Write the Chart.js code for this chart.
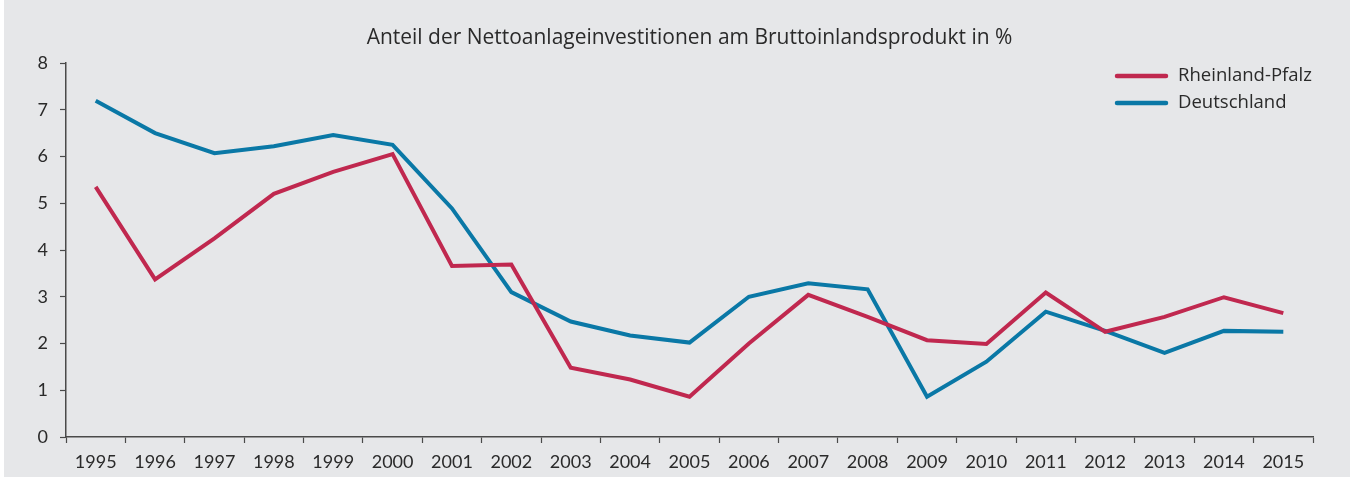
<!DOCTYPE html>
<html>
<head>
<meta charset="utf-8">
<script src="https://cdn.jsdelivr.net/npm/chart.js@4/dist/chart.umd.min.js"></script>
<style>
  html, body { margin: 0; padding: 0; background: #ffffff; }
  #wrap { position: absolute; left: 4px; top: 0; width: 1346px; height: 477px; background: #e6e7e9; }
  canvas { display: block; }
</style>
</head>
<body>
<div id="wrap"><canvas id="c"></canvas></div>
<script>
const titleText = "Anteil der Nettoanlageinvestitionen am Bruttoinlandsprodukt in %";
const years = ["1995","1996","1997","1998","1999","2000","2001","2002","2003","2004","2005","2006","2007","2008","2009","2010","2011","2012","2013","2014","2015"];
const rheinlandPfalz = [5.35, 3.37, 4.25, 5.2, 5.67, 6.05, 3.66, 3.69, 1.48, 1.23, 0.86, 2.0, 3.04, 2.57, 2.07, 1.99, 3.09, 2.25, 2.57, 2.99, 2.65];
const deutschland = [7.19, 6.5, 6.07, 6.22, 6.46, 6.25, 4.89, 3.1, 2.47, 2.17, 2.02, 3.0, 3.29, 3.16, 0.86, 1.61, 2.68, 2.27, 1.8, 2.27, 2.25];
const seriesNames = ["Rheinland-Pfalz", "Deutschland"];
const yTicks = [0, 1, 2, 3, 4, 5, 6, 7, 8];

const RED = "#c0284f";
const BLUE = "#0a78a6";
const TEXT = "#2a2a2a";
const AXIS = "#4a4a4a";
const FONT = "Lato, 'Open Sans', sans-serif";
const FONT2 = "'Open Sans', 'Noto Sans', Lato, sans-serif";

function fitFont(ctx, text, targetWidth, baseSize, family) {
  ctx.font = baseSize + "px " + family;
  const w = ctx.measureText(text).width;
  const size = baseSize * targetWidth / w;
  return size.toFixed(2) + "px " + family;
}

const overlay = {
  id: "overlay",
  afterDraw(chart) {
    const ctx = chart.ctx;
    const ca = chart.chartArea;
    ctx.save();
    // title
    ctx.fillStyle = TEXT;
    ctx.font = fitFont(ctx, titleText, 646, 20, FONT2);
    ctx.textAlign = "center";
    ctx.textBaseline = "middle";
    ctx.fillText(titleText, (ca.left + ca.right) / 2, 38);
    // legend
    const legendFont = fitFont(ctx, chart.data.datasets[0].label, 134, 18, FONT2);
    ctx.textAlign = "left";
    chart.data.datasets.forEach((ds, i) => {
      const y = 76 + i * 27;
      ctx.strokeStyle = ds.borderColor;
      ctx.lineWidth = 4.5;
      ctx.lineCap = "round";
      ctx.beginPath();
      ctx.moveTo(1113, y);
      ctx.lineTo(1162, y);
      ctx.stroke();
      ctx.fillStyle = TEXT;
      ctx.font = legendFont;
      ctx.fillText(ds.label, 1174, y);
    });
    ctx.restore();
  }
};

new Chart(document.getElementById("c"), {
  type: "line",
  data: {
    labels: years,
    datasets: [
      { label: seriesNames[0], data: rheinlandPfalz, borderColor: RED, backgroundColor: RED },
      { label: seriesNames[1], data: deutschland, borderColor: BLUE, backgroundColor: BLUE }
    ]
  },
  options: {
    responsive: true,
    maintainAspectRatio: false,
    animation: false,
    events: [],
    layout: { padding: { top: 63, right: 37, left: 0, bottom: 0 } },
    elements: {
      line: { borderWidth: 4, tension: 0, borderJoinStyle: "miter", borderCapStyle: "butt" },
      point: { radius: 0 }
    },
    plugins: {
      legend: { display: false },
      title: { display: false },
      tooltip: { enabled: false }
    },
    scales: {
      x: {
        offset: true,
        grid: { offset: true, drawOnChartArea: false, drawTicks: true, tickLength: 6, tickColor: AXIS, tickWidth: 1.2 },
        border: { color: AXIS, width: 1.5 },
        ticks: { color: TEXT, font: { family: FONT, size: 18 }, padding: 8, maxRotation: 0, autoSkip: false },
        afterFit(scale) { scale.height = 40; }
      },
      y: {
        min: 0, max: 8,
        afterBuildTicks(scale) { scale.ticks = yTicks.map(v => ({ value: v })); },
        grid: { drawOnChartArea: false, drawTicks: true, tickLength: 6, tickColor: AXIS, tickWidth: 1.2 },
        border: { color: AXIS, width: 1.5 },
        ticks: { color: TEXT, font: { family: FONT, size: 18 }, padding: 12 },
        afterFit(scale) { scale.width = 62; }
      }
    }
  },
  plugins: [overlay]
});
</script>
</body>
</html>
